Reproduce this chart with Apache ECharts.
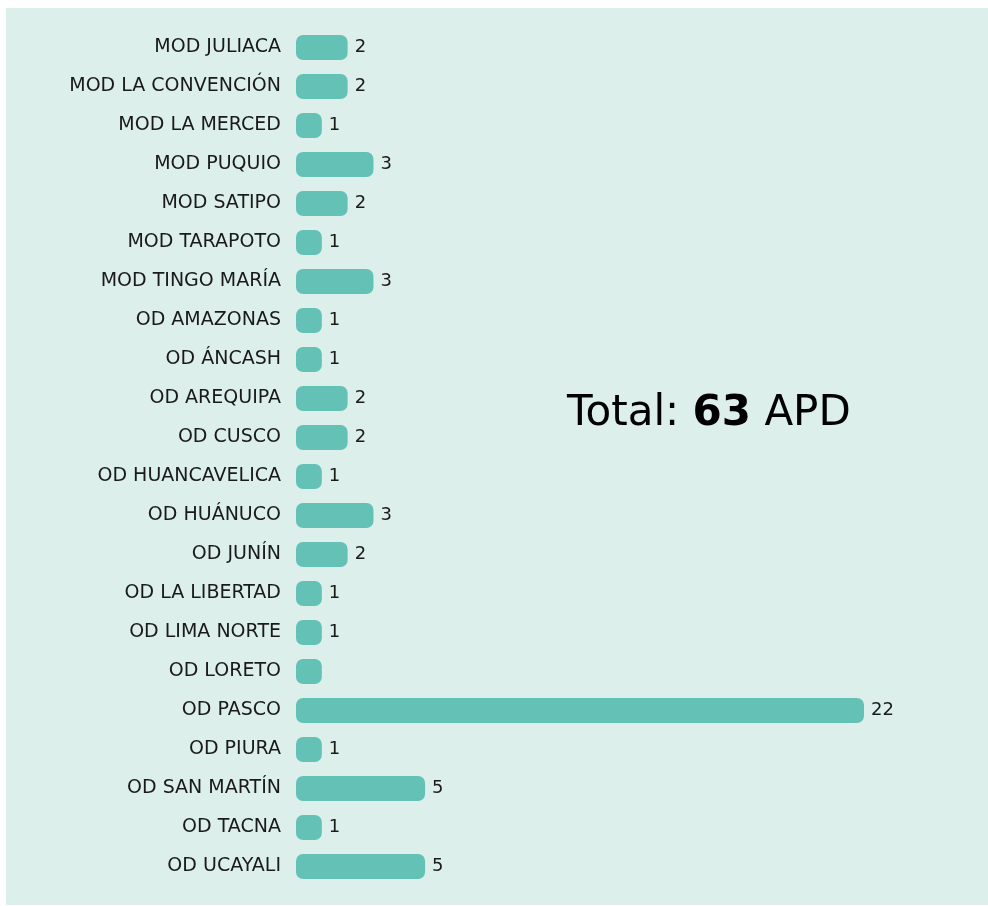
<!DOCTYPE html>
<html>
<head>
<meta charset="utf-8">
<script src="https://cdn.jsdelivr.net/npm/echarts@6/dist/echarts.min.js"></script>
<style>
  html, body { margin: 0; padding: 0; background: #ffffff; }
  #main { width: 988px; height: 906px; }
</style>
</head>
<body>
<div id="main"></div>
<script type="text/javascript">
// oficinas (top to bottom as in the picture)
var categories = ['MOD JULIACA', 'MOD LA CONVENCIÓN', 'MOD LA MERCED', 'MOD PUQUIO', 'MOD SATIPO',
    'MOD TARAPOTO', 'MOD TINGO MARÍA', 'OD AMAZONAS', 'OD ÁNCASH', 'OD AREQUIPA', 'OD CUSCO',
    'OD HUANCAVELICA', 'OD HUÁNUCO', 'OD JUNÍN', 'OD LA LIBERTAD', 'OD LIMA NORTE', 'OD LORETO',
    'OD PASCO', 'OD PIURA', 'OD SAN MARTÍN', 'OD TACNA', 'OD UCAYALI'];
var values = [2, 2, 1, 3, 2, 1, 3, 1, 1, 2, 2, 1, 3, 2, 1, 1, 1, 22, 1, 5, 1, 5];
// the picture shows no number next to OD LORETO
var hideLabel = ['OD LORETO'];
var totalApd = 63;

var myChart = echarts.init(document.getElementById('main'));

var seriesData = values.map(function (v, i) {
    var item = { value: v };
    if (hideLabel.indexOf(categories[i]) >= 0) item.label = { show: false };
    return item;
});

var font = 'DejaVu Sans';

var option = {
    backgroundColor: '#ffffff',
    animation: false,
    graphic: [
        {
            type: 'rect', z: -10, silent: true,
            shape: { x: 6, y: 8, width: 982, height: 897 },
            style: { fill: '#dcefea' }
        },
        {
            type: 'text', left: 567, top: 393,
            style: {
                text: '{a|Total: }{b|' + totalApd + '}{a| APD}',
                rich: {
                    a: { fontFamily: font, fontSize: 42, color: '#111111' },
                    b: { fontFamily: font, fontSize: 42, fontWeight: 'bold', color: '#111111' }
                }
            }
        }
    ],
    grid: { left: 296, right: 124, top: 28, bottom: 20, containLabel: false },
    xAxis: {
        type: 'value', min: 0, max: 22, show: false
    },
    yAxis: {
        type: 'category', inverse: true, data: categories,
        axisLine: { show: false }, axisTick: { show: false },
        axisLabel: { fontFamily: font, fontSize: 19, color: '#1a1a1a', margin: 15 }
    },
    series: [
        {
            type: 'bar',
            data: seriesData,
            barWidth: '64%',
            itemStyle: { color: '#64c1b5', borderRadius: 7 },
            label: {
                show: true, position: 'right', distance: 7,
                fontFamily: font, fontSize: 18, color: '#1a1a1a'
            }
        }
    ]
};

if (option && typeof option === "object") {
    myChart.setOption(option, true);
}
</script>
</body>
</html>
